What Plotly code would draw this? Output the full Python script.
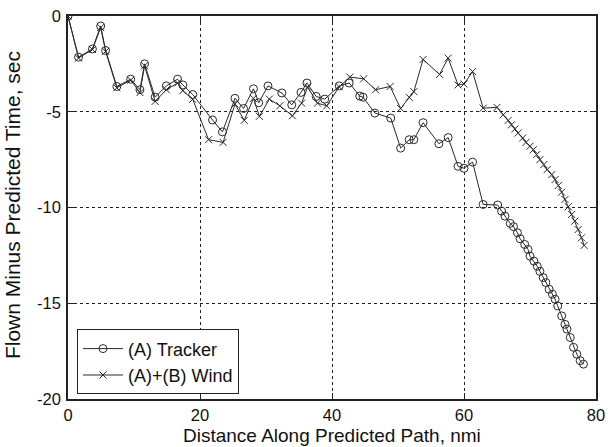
import plotly.graph_objects as go

# (A) Tracker: flown minus predicted time along the predicted path
tracker_dist = [0.0, 1.6, 3.7, 4.95, 5.7, 7.4, 9.5, 10.9, 11.6, 13.2, 14.9, 16.6, 17.4, 18.9,
                21.9, 23.4, 25.3, 26.6, 28.1, 28.9, 30.3, 32.4, 33.9, 35.3, 36.2, 37.6, 38.9,
                41.1, 42.6, 44.2, 44.7, 46.5, 48.9, 50.4, 51.7, 52.4, 53.8, 56.2, 57.6, 59.1,
                60.0, 61.3, 62.9, 65.1,
                65.7, 66.2, 67.0, 67.5, 68.1, 68.5, 69.2, 69.7, 70.0, 70.6, 71.1, 71.5, 72.0,
                72.4, 72.9, 73.4, 73.8, 74.2, 74.8, 75.3, 75.6, 76.1, 76.6, 77.1, 77.6, 78.1]
tracker_dt = [0.0, -2.15, -1.72, -0.52, -1.8, -3.68, -3.3, -3.85, -2.5, -4.24, -3.65, -3.3, -3.6, -4.1,
              -5.43, -6.05, -4.3, -4.83, -3.8, -4.53, -3.65, -4.02, -4.64, -3.99, -3.5, -4.2, -4.34,
              -3.65, -3.5, -4.18, -4.24, -5.07, -5.33, -6.9, -6.46, -6.46, -5.57, -6.67, -6.35, -7.85,
              -7.95, -7.63, -9.84, -9.87,
              -10.19, -10.45, -10.83, -11.0, -11.32, -11.63, -11.93, -12.19, -12.54, -12.8, -13.07,
              -13.33, -13.66, -13.92, -14.27, -14.53, -14.79, -15.14, -15.66, -16.1, -16.35, -16.79,
              -17.3, -17.66, -18.0, -18.18]

# (A)+(B) Wind
wind_dist = [0.0, 1.6, 3.7, 4.95, 5.7, 7.4, 9.5, 10.9, 11.6, 13.2, 14.9, 16.6, 17.4, 18.9,
             21.3, 23.5, 25.3, 26.7, 28.1, 29.0, 30.5, 32.1, 34.0, 35.4, 36.3, 37.8, 39.2,
             41.1, 42.7, 44.8, 46.6, 48.8, 50.4, 51.7, 52.4, 53.8, 56.3, 57.6, 59.1, 60.0,
             61.3, 62.9, 65.0,
             65.95, 66.7, 67.2, 67.7, 68.2, 68.9, 69.4, 70.0, 70.5, 71.0, 71.5, 72.1, 72.6,
             73.3, 73.8, 74.3, 74.8, 75.3, 75.8, 76.3, 76.8, 77.3, 77.8, 78.2]
wind_dt = [0.0, -2.2, -1.75, -0.6, -1.85, -3.75, -3.35, -4.0, -2.6, -4.46, -3.85, -3.5, -3.9, -4.35,
           -6.46, -6.6, -4.6, -5.45, -4.3, -5.24, -4.34, -4.69, -5.21, -4.55, -3.71, -4.55, -4.69,
           -3.7, -3.19, -3.28, -3.85, -3.68, -4.83, -4.25, -3.95, -2.27, -3.05, -2.2, -3.6, -3.55,
           -2.9, -4.81, -4.77,
           -5.16, -5.45, -5.68, -5.9, -6.11, -6.37, -6.6, -6.8, -6.98, -7.24, -7.5, -7.76, -8.02,
           -8.28, -8.54, -8.85, -9.2, -9.58, -9.96, -10.36, -10.71, -11.15, -11.58, -11.98]

x_ticks = [0, 20, 40, 60, 80]
y_ticks = [0, -5, -10, -15, -20]

x_title = "Distance Along Predicted Path, nmi"
y_title = "Flown Minus Predicted Time, sec"

line_col = "#2a2a2a"
family = "Liberation Sans, Arial, sans-serif"
tick_font = dict(family=family, size=16.5, color="#111111")
x_title_font = dict(family=family, size=19, color="#111111")
y_title_font = dict(family=family, size=21, color="#111111")

fig = go.Figure()
fig.add_trace(go.Scatter(
    x=tracker_dist, y=tracker_dt, name="(A) Tracker", mode="lines+markers",
    line=dict(color=line_col, width=1),
    marker=dict(symbol="circle-open", size=8, color=line_col, line=dict(width=1)),
))
fig.add_trace(go.Scatter(
    x=wind_dist, y=wind_dt, name="(A)+(B) Wind", mode="lines+markers",
    line=dict(color=line_col, width=1),
    marker=dict(symbol="x-thin-open", size=7, color=line_col, line=dict(width=1, color=line_col)),
))

axis_common = dict(
    showline=True, linecolor="#222222", linewidth=1.5, mirror="ticks",
    ticks="inside", ticklen=6, tickcolor="#222222", tickwidth=1,
    showgrid=True, gridcolor="#222222", griddash="dot", gridwidth=1,
    zeroline=False, tickfont=tick_font, automargin=False,
)

fig.update_layout(
    width=608, height=447,
    margin=dict(l=68, r=12, t=16, b=48),
    paper_bgcolor="white", plot_bgcolor="white",
    font=tick_font,
    xaxis=dict(range=[0, 80], tickvals=x_ticks, ticktext=[str(v) for v in x_ticks],
               ticklabelstandoff=0, **axis_common),
    yaxis=dict(range=[-20, 0], tickvals=y_ticks, ticktext=[str(v) for v in y_ticks],
               ticklabelstandoff=2, **axis_common),
    legend=dict(x=0.017, y=0.012, xanchor="left", yanchor="bottom",
                bgcolor="white", bordercolor="#222222", borderwidth=1,
                font=dict(family=family, size=18, color="#111111"),
                itemwidth=40, tracegroupgap=0),
    showlegend=True,
    annotations=[
        # axis titles placed explicitly so they sit close to the tick labels
        dict(text=x_title, xref="paper", yref="paper", x=0.5, y=-48 / 383,
             xanchor="center", yanchor="bottom", showarrow=False, font=x_title_font,
             borderpad=0),
        dict(text=y_title, xref="paper", yref="paper", x=-68 / 528, y=0.505,
             xanchor="left", yanchor="middle", textangle=-90, showarrow=False,
             font=y_title_font, borderpad=0),
    ],
)

fig.write_html("out.html")
